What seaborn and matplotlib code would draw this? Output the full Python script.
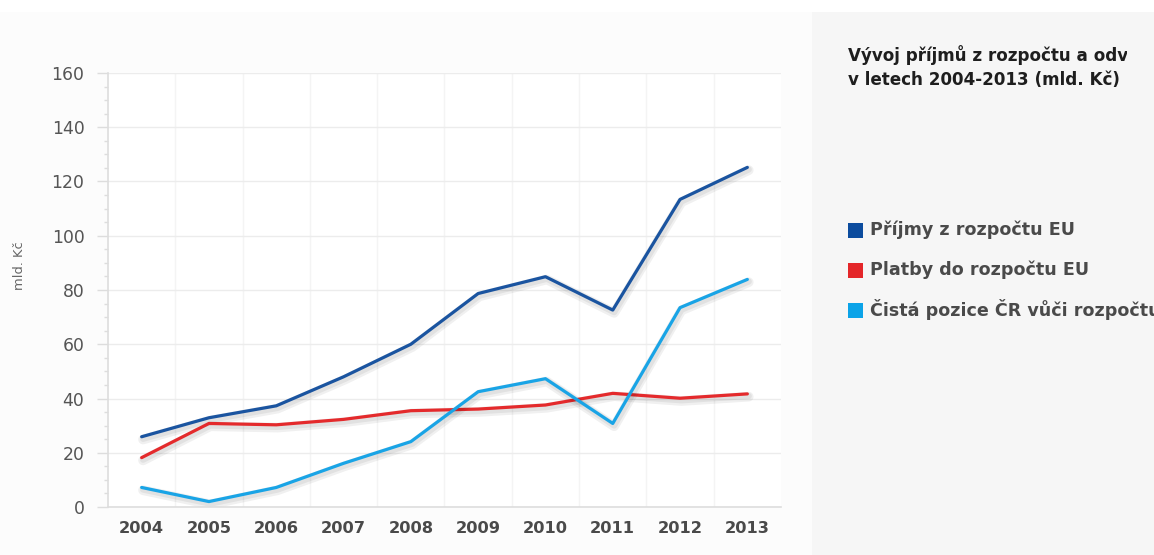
import numpy as np
import pandas as pd
import matplotlib
matplotlib.use("Agg")
import matplotlib.pyplot as plt
import matplotlib.patheffects as pe
from matplotlib.patches import Rectangle
from matplotlib.ticker import MultipleLocator
import seaborn as sns

sns.set_style("white")
plt.rcParams["font.family"] = ["DejaVu Sans"]

# values (mld. Kč)
years = [2004, 2005, 2006, 2007, 2008, 2009, 2010, 2011, 2012, 2013]
prijmy = [25.9, 32.9, 37.3, 48.0, 60.0, 78.7, 84.9, 72.6, 113.4, 125.2]
platby = [18.2, 30.8, 30.3, 32.3, 35.5, 36.1, 37.6, 41.9, 40.1, 41.7]
cista = [7.2, 2.0, 7.2, 16.1, 24.1, 42.5, 47.3, 30.8, 73.5, 83.9]

series_names = ["Příjmy z rozpočtu EU", "Platby do rozpočtu EU",
                "Čistá pozice ČR vůči rozpočtu EU"]
colors = ["#1a54a0", "#e42a2c", "#19a4e6"]
legend_colors = ["#0c4c9e", "#e42629", "#0ba3e8"]

df = pd.DataFrame({
    "Rok": years * 3,
    "Hodnota": prijmy + platby + cista,
    "Serie": [series_names[0]] * 10 + [series_names[1]] * 10 + [series_names[2]] * 10,
})

W, H = 1154, 555
fig = plt.figure(figsize=(W / 100, H / 100), dpi=100)
fig.patch.set_facecolor("white")

# backgrounds: off-white left area, grey side panel
fig.patches.append(Rectangle((0, 0), 812 / W, (H - 12) / H, transform=fig.transFigure,
                             facecolor="#fcfcfc", edgecolor="none", zorder=-10))
fig.patches.append(Rectangle((812 / W, 0), 1 - 812 / W, (H - 12) / H, transform=fig.transFigure,
                             facecolor="#f6f6f6", edgecolor="none", zorder=-10))

left, right, top, bottom = 108, 781, 73, 507
ax = fig.add_axes([left / W, (H - bottom) / H, (right - left) / W, (bottom - top) / H])
ax.set_facecolor("white")

sns.lineplot(data=df, x="Rok", y="Hodnota", hue="Serie", hue_order=series_names,
             palette=dict(zip(series_names, colors)), linewidth=2.3, legend=False, ax=ax)

# soft shadow under the lines, as in the reference
for line in ax.get_lines():
    line.set_path_effects([
        pe.SimpleLineShadow(offset=(1, -2), shadow_color="#000000", alpha=0.06, linewidth=7),
        pe.SimpleLineShadow(offset=(1, -1.5), shadow_color="#000000", alpha=0.06, linewidth=4.5),
        pe.Normal(),
    ])

ax.set_xlim(2003.5, 2013.5)
ax.set_ylim(0, 160)
ax.set_xticks(years)
ax.set_xticklabels([str(y) for y in years], fontsize=11.7, fontweight="bold", color="#4a4a4a")
ax.yaxis.set_major_locator(MultipleLocator(20))
ax.yaxis.set_minor_locator(MultipleLocator(5))
ax.tick_params(axis="y", which="major", length=8, width=1, color="#dddddd",
               labelsize=12.4, labelcolor="#555555", pad=9, left=True)
ax.tick_params(axis="y", which="minor", length=3, width=1, color="#dddddd", left=True)
ax.tick_params(axis="x", length=0, pad=10)

# horizontal grid + faint category separators
ax.grid(axis="y", which="major", color="#ececec", linewidth=1)
for b in np.arange(2004.5, 2013.5, 1):
    ax.axvline(b, color="#f4f4f4", linewidth=1, zorder=0)
ax.set_axisbelow(True)

for side in ["top", "right"]:
    ax.spines[side].set_visible(False)
for side in ["left", "bottom"]:
    ax.spines[side].set_color("#dddddd")
    ax.spines[side].set_linewidth(1.2)

ax.set_xlabel("")
ax.set_ylabel("mld. Kč", fontsize=9.4, color="#666666")
ax.yaxis.set_label_coords(-0.122, 0.555)

# title in the side panel, clipped at its right edge
clip = Rectangle((812 / W, 0), (1127 - 812) / W, 1, transform=fig.transFigure,
                 facecolor="none", edgecolor="none")
fig.patches.append(clip)
t1 = fig.text(848 / W, 1 - 55 / H, "Vývoj příjmů z rozpočtu a odvodů do rozpočtu EU",
              fontsize=12.1, fontweight="bold", color="#1e1e1e", va="center", ha="left")
t2 = fig.text(848 / W, 1 - 80 / H, "v letech 2004-2013 (mld. Kč)",
              fontsize=12.1, fontweight="bold", color="#1e1e1e", va="center", ha="left")
t1.set_clip_path(clip)
t1.set_clip_on(True)

# legend drawn by hand in the side panel
for i, (name, col) in enumerate(zip(series_names, legend_colors)):
    yc = 230 + 40 * i
    fig.patches.append(Rectangle((848 / W, 1 - (yc + 7.5) / H), 15 / W, 15 / H,
                                 transform=fig.transFigure, facecolor=col, edgecolor="none"))
    fig.text(870 / W, 1 - yc / H, name, fontsize=12.6, fontweight="bold",
             color="#4a4a4a", va="center", ha="left")

fig.savefig("out.png", dpi=100)
